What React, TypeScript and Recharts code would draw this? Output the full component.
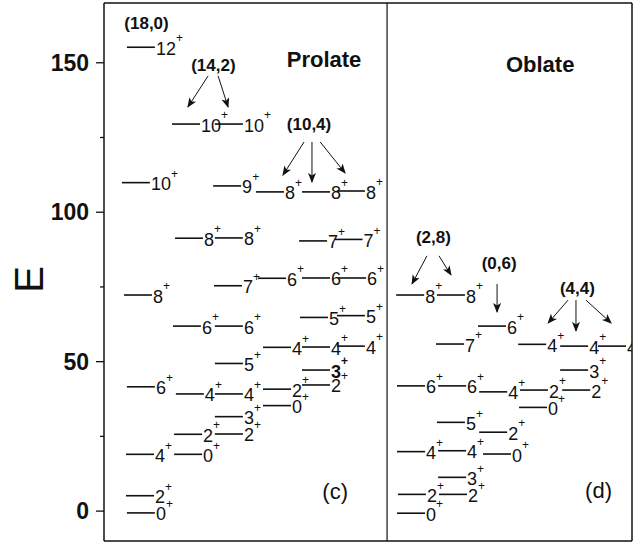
import React from "react";
import { ScatterChart, Scatter, XAxis, YAxis, ReferenceLine } from "recharts";

type Level = { x: number; y: number; spin: string; bold?: boolean };
type Tag = { x: number; y: number; text: string };

// Prolate (c)
const band18_0: Level[] = [
  { x: 0.78, y: -0.6, spin: "0" },
  { x: 0.75, y: 5.15, spin: "2" },
  { x: 0.75, y: 19.0, spin: "4" },
  { x: 0.78, y: 41.6, spin: "6" },
  { x: 0.68, y: 72.3, spin: "8" },
  { x: 0.61, y: 109.9, spin: "10" },
  { x: 0.78, y: 155.2, spin: "12" },
];

const band14_2a: Level[] = [
  { x: 2.39, y: 19.0, spin: "0" },
  { x: 2.39, y: 25.7, spin: "2" },
  { x: 2.45, y: 39.2, spin: "4" },
  { x: 2.35, y: 61.9, spin: "6" },
  { x: 2.42, y: 91.3, spin: "8" },
  { x: 2.32, y: 129.5, spin: "10" },
];

const band14_2b: Level[] = [
  { x: 3.78, y: 25.8, spin: "2" },
  { x: 3.78, y: 31.6, spin: "3" },
  { x: 3.78, y: 39.2, spin: "4" },
  { x: 3.78, y: 49.4, spin: "5" },
  { x: 3.78, y: 61.9, spin: "6" },
  { x: 3.75, y: 75.4, spin: "7" },
  { x: 3.78, y: 91.4, spin: "8" },
  { x: 3.72, y: 108.8, spin: "9" },
  { x: 3.78, y: 129.5, spin: "10" },
];

const band10_4a: Level[] = [
  { x: 5.42, y: 35.3, spin: "0" },
  { x: 5.42, y: 40.8, spin: "2" },
  { x: 5.42, y: 54.8, spin: "4" },
  { x: 5.25, y: 77.9, spin: "6" },
  { x: 5.18, y: 106.8, spin: "8" },
];

const band10_4b: Level[] = [
  { x: 6.75, y: 42.2, spin: "2" },
  { x: 6.75, y: 47.2, spin: "3", bold: true },
  { x: 6.75, y: 54.9, spin: "4" },
  { x: 6.68, y: 64.8, spin: "5" },
  { x: 6.75, y: 78.0, spin: "6" },
  { x: 6.65, y: 90.4, spin: "7" },
  { x: 6.75, y: 106.8, spin: "8" },
];

const band10_4c: Level[] = [
  { x: 7.94, y: 55.2, spin: "4" },
  { x: 7.94, y: 65.4, spin: "5" },
  { x: 7.98, y: 78.0, spin: "6" },
  { x: 7.86, y: 90.9, spin: "7" },
  { x: 7.94, y: 107.1, spin: "8" },
];

// Oblate (d)
const band2_8a: Level[] = [
  { x: 9.99, y: -0.7, spin: "0" },
  { x: 10.02, y: 5.6, spin: "2" },
  { x: 9.99, y: 19.9, spin: "4" },
  { x: 9.99, y: 41.9, spin: "6" },
  { x: 9.96, y: 72.3, spin: "8" },
];

const band2_8b: Level[] = [
  { x: 11.42, y: 5.6, spin: "2" },
  { x: 11.39, y: 11.3, spin: "3" },
  { x: 11.39, y: 20.2, spin: "4" },
  { x: 11.35, y: 29.7, spin: "5" },
  { x: 11.39, y: 41.9, spin: "6" },
  { x: 11.32, y: 55.9, spin: "7" },
  { x: 11.35, y: 72.3, spin: "8" },
];

const band0_6: Level[] = [
  { x: 12.92, y: 19.1, spin: "0" },
  { x: 12.79, y: 26.4, spin: "2" },
  { x: 12.79, y: 39.9, spin: "4" },
  { x: 12.75, y: 61.9, spin: "6" },
];

const band4_4a: Level[] = [
  { x: 14.15, y: 34.7, spin: "0" },
  { x: 14.18, y: 40.5, spin: "2" },
  { x: 14.12, y: 55.8, spin: "4" },
];

const band4_4b: Level[] = [
  { x: 15.62, y: 40.5, spin: "2" },
  { x: 15.55, y: 47.2, spin: "3" },
  { x: 15.55, y: 55.2, spin: "4" },
];

const band4_4c: Level[] = [{ x: 16.84, y: 55.2, spin: "4" }];

const allBands = [
  band18_0, band14_2a, band14_2b, band10_4a, band10_4b, band10_4c,
  band2_8a, band2_8b, band0_6, band4_4a, band4_4b, band4_4c,
];

const bandTags: Tag[] = [
  { x: 1.45, y: 163.3, text: "(18,0)" },
  { x: 3.73, y: 149.2, text: "(14,2)" },
  { x: 6.99, y: 129.2, text: "(10,4)" },
  { x: 11.23, y: 91.4, text: "(2,8)" },
  { x: 13.47, y: 83.0, text: "(0,6)" },
  { x: 16.14, y: 74.6, text: "(4,4)" },
];

const shapeTags: Tag[] = [
  { x: 7.5, y: 151.2, text: "Prolate" },
  { x: 14.87, y: 149.4, text: "Oblate" },
];

const panelTags: Tag[] = [
  { x: 7.88, y: 6.7, text: "(c)" },
  { x: 16.86, y: 7.0, text: "(d)" },
];

// arrows: [x0, y0, x1, y1]
const arrows: number[][] = [
  [3.55, 145.6, 2.86, 135.2],
  [3.89, 145.6, 4.23, 135.2],
  [6.82, 123.5, 6.1, 112.4],
  [7.09, 123.5, 7.09, 110.1],
  [7.37, 123.5, 8.22, 113.1],
  [11.01, 85.4, 10.5, 76.0],
  [11.42, 85.4, 11.83, 79.0],
  [13.4, 76.0, 13.4, 66.6],
  [15.82, 70.6, 15.14, 62.9],
  [16.09, 70.6, 16.09, 60.3],
  [16.43, 70.6, 17.29, 62.9],
];

const divider = 9.65;
const xTicks = Array.from({ length: 19 }, (_, i) => i);
const yTicks = [0, 25, 50, 75, 100, 125, 150];

const FONT = "'Liberation Sans', Arial, sans-serif";
const LINE_LEN = 28;

const LevelMark = (props: any) => {
  const { cx, cy, payload } = props;
  const x2 = cx + LINE_LEN;
  return (
    <g>
      <line x1={cx} y1={cy} x2={x2} y2={cy} stroke="#111" strokeWidth={1.6} />
      <text
        x={x2 + 1}
        y={cy + 7.5}
        fontSize={18}
        fontFamily={FONT}
        fontWeight={payload.bold ? "bold" : "normal"}
        fill="#111"
      >
        {payload.spin}
        <tspan dy={-12.3} fontSize={12}>+</tspan>
      </text>
    </g>
  );
};

const makeTag = (size: number, weight: string) => (props: any) => {
  const { cx, cy, payload } = props;
  return (
    <text
      x={cx}
      y={cy}
      textAnchor="middle"
      dominantBaseline="central"
      fontSize={size}
      fontWeight={weight}
      fontFamily={FONT}
      fill="#111"
    >
      {payload.text}
    </text>
  );
};

const YTick = (props: any) => {
  const { x, y, payload } = props;
  const major = payload.value % 50 === 0;
  return (
    <g>
      <line x1={x - (major ? 8 : 4)} x2={x} y1={y} y2={y} stroke="#111" strokeWidth={1.3} />
      {major && (
        <text x={x - 15} y={y + 8} textAnchor="end" fontSize={23} fontWeight="bold" fontFamily={FONT} fill="#111">
          {payload.value}
        </text>
      )}
    </g>
  );
};

const AxisTitle = (props: any) => {
  const vb = props.viewBox || { x: 0, y: 0, width: 104, height: 544 };
  const cx = vb.x + 28.5;
  const cy = vb.y + vb.height / 2 + 7.5;
  return (
    <text
      x={cx}
      y={cy}
      transform={`rotate(-90 ${cx} ${cy})`}
      textAnchor="middle"
      dominantBaseline="central"
      fontSize={40}
      fontFamily={FONT}
      fill="#111"
    >
      E
    </text>
  );
};

export default function App() {
  return (
    <div style={{ position: "absolute", left: 0, top: 0, background: "#fff" }}>
      <svg width={0} height={0} style={{ position: "absolute" }}>
        <defs>
          <marker id="arrowhead" markerWidth={10} markerHeight={8} refX={9} refY={4} orient="auto" markerUnits="userSpaceOnUse">
            <path d="M0,0 L10,4 L0,8 L2.5,4 Z" fill="#111" />
          </marker>
        </defs>
      </svg>
      <ScatterChart width={636} height={544} margin={{ top: 0, right: 0, bottom: 0, left: 0 }}>
        <XAxis
          dataKey="x"
          type="number"
          domain={[0, 18]}
          ticks={xTicks}
          tick={false}
          tickSize={3}
          height={3}
          axisLine={{ stroke: "#111", strokeWidth: 1.5 }}
          tickLine={{ stroke: "#111" }}
          allowDataOverflow
        />
        <XAxis
          xAxisId="top"
          orientation="top"
          type="number"
          domain={[0, 18]}
          ticks={xTicks}
          tick={false}
          tickSize={3}
          height={3}
          axisLine={{ stroke: "#111", strokeWidth: 1.5 }}
          tickLine={{ stroke: "#111" }}
          allowDataOverflow
        />
        <YAxis
          dataKey="y"
          type="number"
          domain={[-10, 170]}
          ticks={yTicks}
          width={104}
          tickSize={0}
          tickMargin={0}
          tickLine={false}
          tick={<YTick />}
          axisLine={{ stroke: "#111", strokeWidth: 1.5 }}
          label={<AxisTitle />}
          allowDataOverflow
        />
        <YAxis
          yAxisId="right"
          orientation="right"
          type="number"
          domain={[-10, 170]}
          width={4}
          tick={false}
          tickLine={false}
          axisLine={{ stroke: "#111", strokeWidth: 1.5 }}
        />
        <ReferenceLine x={divider} stroke="#111" strokeWidth={1.2} />
        {arrows.map((a, i) => (
          <ReferenceLine
            key={`ar${i}`}
            segment={[{ x: a[0], y: a[1] }, { x: a[2], y: a[3] }]}
            stroke="#111"
            strokeWidth={1}
            markerEnd="url(#arrowhead)"
          />
        ))}
        {allBands.map((band, i) => (
          <Scatter key={`b${i}`} data={band} shape={<LevelMark />} isAnimationActive={false} />
        ))}
        <Scatter data={bandTags} shape={makeTag(17, "bold")} isAnimationActive={false} />
        <Scatter data={shapeTags} shape={makeTag(22, "bold")} isAnimationActive={false} />
        <Scatter data={panelTags} shape={makeTag(22, "normal")} isAnimationActive={false} />
      </ScatterChart>
    </div>
  );
}
